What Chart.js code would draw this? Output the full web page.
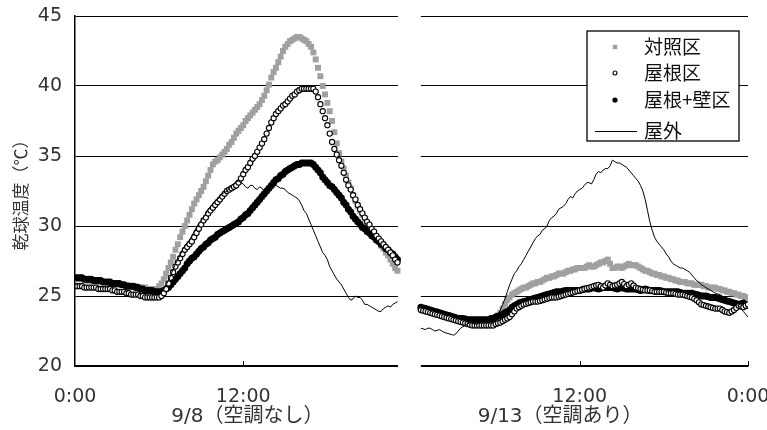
<!DOCTYPE html>
<html><head><meta charset="utf-8">
<script src="https://cdn.jsdelivr.net/npm/chart.js@4/dist/chart.umd.min.js"></script>
<style>html,body{margin:0;padding:0;background:#fff;} #wrap{position:relative;width:767px;height:430px;}</style>
</head><body><div id="wrap"><canvas id="c" width="767" height="430"></canvas></div>
<script>
// ---- labels ----
const seriesNames = ['対照区', '屋根区', '屋根+壁区', '屋外'];
const dayTitles = ['9/8（空調なし）', '9/13（空調あり）'];
const yTitle = '乾球温度（℃）';
const yTicks = [20, 25, 30, 35, 40, 45];
const xTickHours = [0, 12, 36, 48];          // hours on the joined two-day axis
const xTickLabels = ['0:00', '12:00', '12:00', '0:00'];

// ---- sampling (10 min) ----
const sampleStepHours = 1 / 6;
const day1StartHour = 0;          // 9/8 0:00
const day2StartHour = 24 + 2 / 3; // 9/13 0:40 (axis continues across the break)

// ---- 9/8 (no A/C), 0:00 .. 23:00 every 10 min (one row per hour) ----
const control1 = [
  26.2,26.2,26.2,26.2,26.2,26.1, 26.1,26.1,26.1,26.1,26.0,26.0, 26.0,26.0,26.0,25.9,25.9,25.9,
  25.9,25.8,25.8,25.8,25.8,25.7, 25.7,25.7,25.7,25.6,25.6,25.6, 25.6,25.5,25.5,25.5,25.5,25.5,
  25.7,25.9,26.2,26.6,27.0,27.4, 27.8,28.3,28.7,29.2,29.6,30.0, 30.4,30.8,31.2,31.6,31.9,32.2,
  32.5,32.8,33.2,33.6,34.0,34.4, 34.6,34.7,34.9,35.1,35.3,35.5, 35.8,36.0,36.3,36.6,36.8,37.0,
  37.2,37.5,37.7,37.9,38.1,38.3, 38.5,38.7,39.0,39.3,39.7,40.1, 40.6,41.0,41.3,41.7,42.1,42.5,
  42.8,43.0,43.2,43.3,43.4,43.5, 43.5,43.4,43.3,43.2,43.0,42.8, 42.4,41.9,41.3,40.7,40.0,39.4,
  38.8,38.2,37.5,36.7,35.9,35.2, 34.6,34.1,33.6,33.1,32.7,32.2, 31.8,31.4,31.1,30.8,30.5,30.2,
  29.9,29.6,29.4,29.1,28.9,28.6, 28.4,28.1,27.9,27.6,27.3,27.0, 26.8];
const roof1 = [
  25.7,25.7,25.7,25.7,25.6,25.6, 25.6,25.6,25.6,25.6,25.5,25.5, 25.5,25.5,25.5,25.5,25.4,25.4,
  25.3,25.3,25.3,25.3,25.2,25.2, 25.1,25.1,25.1,25.1,25.0,25.0, 24.9,24.9,24.9,24.9,24.9,24.9,
  24.9,25.0,25.2,25.5,25.9,26.3, 26.7,27.1,27.4,27.7,28.0,28.3, 28.5,28.7,28.9,29.2,29.5,29.8,
  30.1,30.4,30.6,30.9,31.1,31.3, 31.5,31.7,31.9,32.1,32.3,32.5, 32.6,32.7,32.8,32.9,33.1,33.4,
  33.7,34.0,34.2,34.5,34.8,35.0, 35.3,35.6,35.9,36.2,36.6,37.0, 37.4,37.7,38.0,38.2,38.4,38.6,
  38.7,38.9,39.1,39.3,39.4,39.6, 39.7,39.8,39.8,39.8,39.8,39.8, 39.8,39.6,39.2,38.7,38.2,37.7,
  37.2,36.6,36.0,35.5,35.1,34.7, 34.3,33.8,33.3,32.9,32.6,32.2, 31.9,31.5,31.2,30.9,30.6,30.3,
  30.1,29.8,29.6,29.3,29.1,28.9, 28.7,28.5,28.3,28.1,27.9,27.6, 27.4];
const roofWall1 = [
  26.3,26.3,26.3,26.3,26.2,26.2, 26.2,26.2,26.1,26.1,26.1,26.1, 26.0,26.0,26.0,26.0,25.9,25.9,
  25.9,25.9,25.8,25.8,25.7,25.7, 25.7,25.7,25.6,25.6,25.5,25.5, 25.4,25.4,25.4,25.4,25.3,25.3,
  25.3,25.3,25.4,25.5,25.6,25.8, 26.0,26.2,26.4,26.6,26.8,27.0, 27.3,27.5,27.7,27.8,28.0,28.2,
  28.4,28.5,28.7,28.8,29.0,29.1, 29.2,29.4,29.5,29.6,29.7,29.8, 29.9,30.0,30.1,30.2,30.3,30.5,
  30.6,30.8,30.9,31.1,31.3,31.5, 31.7,31.9,32.1,32.3,32.5,32.7, 32.9,33.1,33.3,33.4,33.6,33.7,
  33.9,34.0,34.1,34.2,34.3,34.4, 34.4,34.5,34.5,34.5,34.5,34.5, 34.4,34.2,34.0,33.8,33.5,33.3,
  33.1,32.9,32.8,32.6,32.4,32.2, 32.0,31.7,31.5,31.2,31.0,30.7, 30.5,30.3,30.1,29.9,29.8,29.6,
  29.5,29.3,29.2,29.0,28.9,28.7, 28.6,28.4,28.3,28.1,28.0,27.8, 27.6];
const outdoor1 = [
  26.2,26.2,26.2,26.1,26.1,26.1, 26.1,26.1,26.0,26.0,26.0,26.0, 25.9,25.9,25.9,25.8,25.8,25.8,
  25.8,25.7,25.7,25.6,25.6,25.6, 25.6,25.5,25.5,25.4,25.4,25.4, 25.3,25.3,25.3,25.2,25.2,25.2,
  25.2,25.3,25.5,25.8,26.1,26.5, 26.9,27.3,27.6,27.9,28.3,28.6, 28.8,29.0,29.3,29.6,29.9,30.2,
  30.4,30.6,30.9,31.2,31.4,31.6, 31.8,31.9,32.1,32.3,32.4,32.5, 32.7,32.9,33.0,33.2,33.2,33.1,
  33.0,32.8,32.7,32.9,32.9,32.7, 32.6,32.8,32.7,32.5,32.4,32.5, 32.6,32.8,32.9,32.8,32.7,32.7,
  32.6,32.4,32.3,32.2,32.1,32.0, 31.8,31.5,31.1,30.9,30.5,30.1, 29.7,29.3,28.9,28.5,28.1,27.9,
  27.6,27.1,26.8,26.5,26.2,26.0, 25.8,25.5,25.2,24.9,24.7,24.8, 25.0,24.9,24.9,24.7,24.4,24.4,
  24.3,24.2,24.1,24.0,23.9,23.9, 24.1,24.2,24.3,24.2,24.4,24.5, 24.6];

// ---- 9/13 (A/C on), 0:40 .. 24:00 every 10 min (first row 0:40-0:50, then one row per hour) ----
const control2 = [
  24.1,24.05, 24.0,23.95,23.9,23.85,23.8,23.75, 23.7,23.65,23.6,23.55,23.5,23.45,
  23.4,23.35,23.3,23.3,23.3,23.25, 23.2,23.2,23.2,23.2,23.2,23.2, 23.2,23.2,23.2,23.2,23.3,23.3,
  23.4,23.6,23.8,24.1,24.4,24.7, 24.9,25.1,25.2,25.3,25.4,25.5, 25.6,25.6,25.7,25.8,25.9,25.9,
  26.0,26.0,26.1,26.2,26.3,26.3, 26.4,26.4,26.5,26.6,26.6,26.6, 26.7,26.8,26.8,26.9,26.9,27.0,
  27.0,27.0,27.0,27.1,27.2,27.1, 27.1,27.2,27.3,27.4,27.4,27.5, 27.6,27.3,27.0,27.0,27.1,27.1,
  27.0,27.1,27.2,27.3,27.2,27.2, 27.2,27.1,27.0,26.9,26.8,26.8, 26.7,26.6,26.6,26.5,26.5,26.4,
  26.4,26.3,26.3,26.2,26.2,26.1, 26.1,26.0,26.0,26.0,25.9,25.9, 25.9,25.8,25.8,25.8,25.8,25.7,
  25.7,25.6,25.6,25.6,25.6,25.5, 25.5,25.4,25.4,25.3,25.3,25.2, 25.2,25.1,25.1,25.0,25.0,24.9, 24.9];
const roof2 = [
  24.0,23.95, 23.9,23.85,23.8,23.75,23.7,23.65, 23.6,23.55,23.5,23.45,23.4,23.35,
  23.3,23.25,23.2,23.15,23.1,23.05, 23.0,22.95,22.9,22.9,22.9,22.9, 22.9,22.9,22.9,22.9,22.9,22.9,
  23.0,23.05,23.1,23.2,23.3,23.4, 23.5,23.7,23.9,24.1,24.2,24.3, 24.4,24.45,24.5,24.55,24.6,24.6,
  24.6,24.65,24.7,24.75,24.8,24.85, 24.9,24.9,24.9,24.95,25.0,25.05, 25.1,25.15,25.2,25.25,25.3,25.35,
  25.4,25.45,25.5,25.55,25.6,25.65, 25.7,25.75,25.8,25.7,25.6,25.75, 25.9,25.8,25.7,25.75,25.8,25.9,
  26.0,25.85,25.7,25.8,25.9,25.75, 25.6,25.55,25.5,25.45,25.4,25.4, 25.4,25.35,25.3,25.3,25.3,25.3,
  25.3,25.25,25.2,25.2,25.2,25.15, 25.1,25.1,25.1,25.05,25.0,24.95, 24.9,24.8,24.7,24.55,24.4,24.35,
  24.3,24.25,24.2,24.15,24.1,24.1, 24.1,24.0,23.9,23.85,23.8,23.9, 24.0,24.15,24.3,24.25,24.2,24.3, 24.4];
const roofWall2 = [
  24.2,24.15, 24.1,24.05,24.0,23.95,23.9,23.85, 23.8,23.75,23.7,23.65,23.6,23.55,
  23.5,23.45,23.4,23.4,23.4,23.35, 23.3,23.3,23.3,23.3,23.3,23.3, 23.3,23.3,23.3,23.3,23.4,23.4,
  23.5,23.55,23.6,23.7,23.8,23.9, 24.0,24.2,24.3,24.4,24.5,24.55, 24.6,24.65,24.7,24.75,24.8,24.85,
  24.9,24.95,25.0,25.05,25.1,25.15, 25.2,25.25,25.3,25.3,25.3,25.35, 25.4,25.4,25.4,25.4,25.4,25.4,
  25.4,25.45,25.5,25.5,25.5,25.55, 25.6,25.55,25.5,25.55,25.6,25.6, 25.6,25.6,25.6,25.55,25.5,25.55,
  25.6,25.55,25.5,25.5,25.5,25.5, 25.5,25.45,25.4,25.45,25.5,25.45, 25.4,25.4,25.4,25.4,25.4,25.35,
  25.3,25.3,25.3,25.3,25.3,25.3, 25.3,25.25,25.2,25.2,25.2,25.2, 25.2,25.15,25.1,25.05,25.0,25.0,
  25.0,24.95,24.9,24.9,24.9,24.85, 24.8,24.75,24.7,24.65,24.6,24.55, 24.5,24.45,24.4,24.45,24.5,24.4, 24.3];
const outdoor2 = [
  22.7,22.65, 22.6,22.7,22.7,22.6,22.5,22.55, 22.6,22.5,22.4,22.35,22.3,22.25,
  22.2,22.3,22.5,22.7,22.8,22.9, 23.0,23.1,23.1,23.0,23.0,23.1, 23.1,23.2,23.2,23.2,23.3,23.4,
  23.5,23.7,24.0,24.4,24.8,25.3, 25.8,26.2,26.6,26.8,27.1,27.3, 27.6,27.9,28.2,28.5,28.8,29.1,
  29.3,29.4,29.7,29.8,30.0,30.4, 30.6,30.7,30.9,31.2,31.3,31.4, 31.6,31.9,32.1,32.0,32.3,32.5,
  32.6,32.7,32.9,33.1,33.1,33.0, 33.3,33.7,33.9,33.8,34.0,34.1, 34.1,34.3,34.7,34.6,34.5,34.5,
  34.4,34.3,34.2,34.0,33.8,33.6, 33.4,33.2,32.9,32.5,31.9,31.1, 30.3,29.7,29.2,28.9,28.7,28.5,
  28.3,28.0,27.8,27.5,27.3,27.2, 27.1,27.0,27.0,26.9,26.8,26.7, 26.5,26.3,26.1,26.0,25.8,25.7,
  25.6,25.5,25.4,25.3,25.2,25.15, 25.1,25.0,24.9,24.8,24.7,24.6, 24.5,24.4,24.3,24.1,23.9,23.7, 23.5];

// ---- build points ----
const day1LastHour = day1StartHour + (control1.length - 1) * sampleStepHours;
function joinDays(d1, d2) {
  const pts = d1.map((v, i) => ({ x: day1StartHour + i * sampleStepHours, y: v }));
  pts.push({ x: (day1LastHour + day2StartHour) / 2, y: null });
  d2.forEach((v, i) => pts.push({ x: day2StartHour + i * sampleStepHours, y: v }));
  return pts;
}

const CJK = "'Noto Sans CJK JP', sans-serif";
const NUMFONT = "'DejaVu Sans', 'Noto Sans CJK JP', sans-serif";
Chart.defaults.font.family = NUMFONT;
Chart.defaults.color = '#333';

const GRAY = '#a0a0a0';

const panelPlugin = {
  id: 'panels',
  beforeDatasetsDraw(chart) {
    const { ctx, chartArea: a, scales: { x } } = chart;
    const x0 = x.getPixelForValue(day1LastHour) + 0.5;
    const x1 = x.getPixelForValue(day2StartHour);
    ctx.save();
    ctx.fillStyle = '#fff';
    ctx.fillRect(x0, a.top - 3, x1 - x0, a.bottom - a.top + 6);
    ctx.restore();
  },
  afterDraw(chart) {
    const { ctx, chartArea: a, scales: { x } } = chart;
    ctx.save();
    // inward tick marks
    ctx.strokeStyle = '#000';
    ctx.lineWidth = 1;
    xTickHours.slice(1).forEach(h => {
      const px = Math.round(x.getPixelForValue(h)) + 0.5;
      ctx.beginPath(); ctx.moveTo(px, a.bottom); ctx.lineTo(px, a.bottom - 5); ctx.stroke();
    });
    // day titles
    ctx.fillStyle = '#333';
    ctx.font = '20px ' + NUMFONT;
    ctx.textAlign = 'center';
    ctx.textBaseline = 'middle';
    ctx.fillText(dayTitles[0], x.getPixelForValue(12.3), a.bottom + 51);
    ctx.fillText(dayTitles[1], x.getPixelForValue(34.6), a.bottom + 51);
    // legend
    const bx = a.right - 161, by = a.top + 15, bw = 152, bh = 110;
    ctx.fillStyle = '#fff';
    ctx.fillRect(bx, by, bw, bh);
    ctx.strokeStyle = '#000';
    ctx.lineWidth = 1.3;
    ctx.strokeRect(bx, by, bw, bh);
    const rows = [16, 42, 69, 100];
    const ds = chart.data.datasets;
    ctx.font = '19px ' + CJK;
    ctx.textAlign = 'left';
    for (let i = 0; i < 4; i++) {
      const cy = by + rows[i];
      const d = ds[i];
      if (i < 3) {
        ctx.fillStyle = d.pointBackgroundColor;
        ctx.strokeStyle = d.pointBorderColor;
        ctx.lineWidth = d.pointBorderWidth;
        Chart.helpers.drawPoint(ctx, { pointStyle: d.pointStyle, radius: d.pointRadius * 0.75, rotation: 0, borderWidth: d.pointBorderWidth }, bx + 28, cy);
      } else {
        ctx.strokeStyle = '#000'; ctx.lineWidth = 1;
        ctx.beginPath(); ctx.moveTo(bx + 8, cy + 0.5); ctx.lineTo(bx + 50, cy + 0.5); ctx.stroke();
      }
      ctx.fillStyle = '#111';
      ctx.fillText(d.label, bx + 57, cy);
    }
    ctx.restore();
  }
};

new Chart(document.getElementById('c'), {
  type: 'line',
  data: {
    datasets: [
      { label: seriesNames[0], data: joinDays(control1, control2), showLine: false, order: 4,
        pointStyle: 'rect', pointRadius: 4.2, pointBackgroundColor: GRAY, pointBorderColor: GRAY, pointBorderWidth: 0 },
      { label: seriesNames[1], data: joinDays(roof1, roof2), showLine: false, order: 2,
        pointStyle: 'circle', pointRadius: 2.6, pointBackgroundColor: '#fff', pointBorderColor: '#000', pointBorderWidth: 1.1 },
      { label: seriesNames[2], data: joinDays(roofWall1, roofWall2), showLine: false, order: 3,
        pointStyle: 'circle', pointRadius: 3.5, pointBackgroundColor: '#000', pointBorderColor: '#000', pointBorderWidth: 0 },
      { label: seriesNames[3], data: joinDays(outdoor1, outdoor2), order: 1, spanGaps: false,
        borderColor: '#000', borderWidth: 1, pointRadius: 0, tension: 0 }
    ]
  },
  options: {
    responsive: false, animation: false, devicePixelRatio: 1,
    layout: { padding: { left: 0, right: 19, top: 16, bottom: 0 } },
    plugins: { legend: { display: false }, tooltip: { enabled: false } },
    scales: {
      x: {
        type: 'linear', min: 0, max: 48,
        afterBuildTicks: s => { s.ticks = xTickHours.map(v => ({ value: v })); },
        ticks: { autoSkip: false, maxRotation: 0, padding: 20, font: { size: 19 }, color: '#333',
          callback: v => xTickLabels[xTickHours.indexOf(v)] },
        grid: { display: false, drawTicks: false },
        border: { display: true, color: '#000', width: 1.5 },
        afterFit: s => { s.height = 64; s.paddingLeft = 0; s.paddingRight = 0; }
      },
      y: {
        min: 20, max: 45,
        afterBuildTicks: s => { s.ticks = yTicks.map(v => ({ value: v })); },
        ticks: { padding: 13, font: { size: 19 }, color: '#333' },
        grid: { color: '#000', lineWidth: 1, drawTicks: false },
        border: { display: true, color: '#000', width: 1.5 },
        title: { display: true, text: yTitle, font: { size: 17, family: CJK }, color: '#333', padding: { top: 10, bottom: 0 } },
        afterFit: s => { s.width = 75; s.paddingTop = 0; s.paddingBottom = 0; }
      }
    }
  },
  plugins: [panelPlugin]
});
</script>
</body></html>
